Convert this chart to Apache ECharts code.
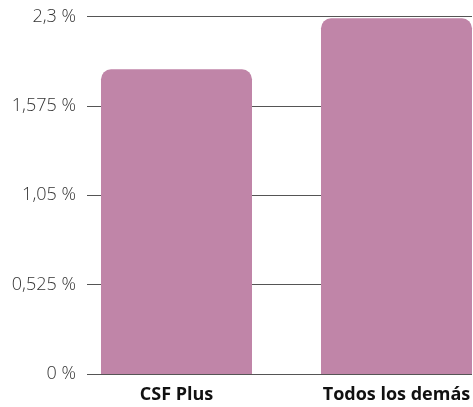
<!DOCTYPE html>
<html><head><meta charset="utf-8">
<script src="https://cdn.jsdelivr.net/npm/echarts@6/dist/echarts.min.js"></script>
<style>html,body{margin:0;padding:0;background:#fff}#c{width:473px;height:407px}</style>
</head><body><div id="c"></div>
<script>
const categories = ["CSF Plus", "Todos los demás"];
const values = [1.79, 2.09];
const tickLabels = ["0 %", "0,525 %", "1,05 %", "1,575 %", "2,3 %"];

const chart = echarts.init(document.getElementById('c'));
const gTop = 16.5, gBottom = 33;
chart.setOption({
  animation: false,
  grid: [
    {left: 87, right: 1, top: gTop, bottom: gBottom},
    {left: 66.5, width: 440, top: gTop, bottom: gBottom, outerBoundsMode: 'none', containLabel: false}
  ],
  xAxis: [
    {gridIndex: 0, type: 'value', show: false, min: 0, max: 1},
    {gridIndex: 1, type: 'category', data: categories,
     axisLine: {show: false}, axisTick: {show: false},
     axisLabel: {margin: 12, fontFamily: 'Open Sans', fontWeight: 'bold', fontSize: 18, color: '#111'}}
  ],
  yAxis: [
    {gridIndex: 0, type: 'value', min: 0, max: 2.1, interval: 0.525,
     axisLine: {show: false}, axisTick: {show: false},
     splitLine: {lineStyle: {color: '#555', width: 1}},
     axisLabel: {margin: 11, fontFamily: 'Open Sans', fontWeight: 300, fontSize: 18, color: '#333',
       formatter: (v, i) => tickLabels[i]}},
    {gridIndex: 1, type: 'value', min: 0, max: 2.1, show: false}
  ],
  series: [{
    type: 'bar', xAxisIndex: 1, yAxisIndex: 1, data: values, barWidth: 151,
    itemStyle: {color: '#c085a8', borderRadius: [10, 10, 0, 0]}
  }]
});
</script></body></html>
